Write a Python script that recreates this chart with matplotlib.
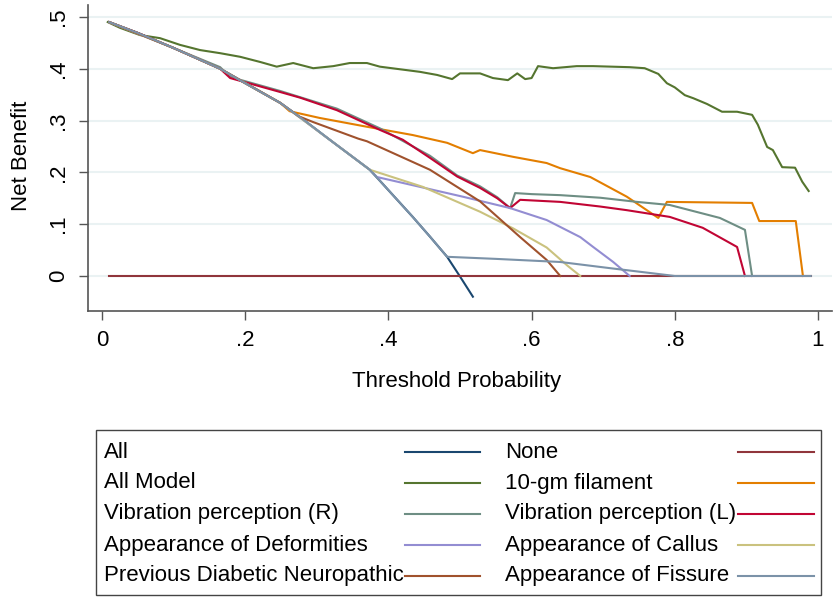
import matplotlib
matplotlib.use('Agg')
import matplotlib.pyplot as plt
from matplotlib.lines import Line2D
from matplotlib.patches import Rectangle

plt.rcParams['font.family'] = ['Liberation Sans', 'DejaVu Sans']

# Tick values and labels
x_ticks = [0, 0.2, 0.4, 0.6, 0.8, 1.0]
x_tick_labels = ['0', '.2', '.4', '.6', '.8', '1']
y_ticks = [0, 0.1, 0.2, 0.3, 0.4, 0.5]
y_tick_labels = ['0', '.1', '.2', '.3', '.4', '.5']

# Series
all_x = [0.01, 0.05, 0.10, 0.165, 0.20, 0.249, 0.28, 0.318, 0.374, 0.384, 0.434, 0.458, 0.482, 0.50, 0.518]
all_y = [0.490, 0.469, 0.440, 0.400, 0.372, 0.334, 0.303, 0.263, 0.205, 0.190, 0.114, 0.076, 0.037, -0.001, -0.040]

none_x = [0.01, 0.99]
none_y = [0.0, 0.0]

model_x = [0.008, 0.025, 0.053, 0.081, 0.109, 0.137, 0.165, 0.193, 0.221, 0.244, 0.267, 0.295,
           0.323, 0.346, 0.370, 0.388, 0.416, 0.444, 0.468, 0.489, 0.500, 0.528, 0.546, 0.567,
           0.580, 0.591, 0.600, 0.609, 0.630, 0.663, 0.686, 0.737, 0.758, 0.777, 0.789, 0.800,
           0.814, 0.826, 0.845, 0.866, 0.887, 0.908, 0.916, 0.929, 0.937, 0.950, 0.968, 0.978, 0.987]
model_y = [0.490, 0.479, 0.465, 0.459, 0.446, 0.436, 0.430, 0.423, 0.413, 0.404, 0.411, 0.401,
           0.405, 0.411, 0.411, 0.404, 0.399, 0.394, 0.388, 0.380, 0.391, 0.391, 0.382, 0.378,
           0.391, 0.380, 0.382, 0.405, 0.401, 0.405, 0.405, 0.403, 0.401, 0.390, 0.372, 0.364,
           0.349, 0.343, 0.332, 0.317, 0.317, 0.311, 0.292, 0.249, 0.243, 0.210, 0.209, 0.182, 0.164]

mono_x = [0.01, 0.05, 0.10, 0.165, 0.20, 0.249, 0.262, 0.304, 0.370, 0.434, 0.482, 0.518, 0.528,
          0.574, 0.621, 0.640, 0.682, 0.733, 0.777, 0.789, 0.908, 0.918, 0.969, 0.979]
mono_y = [0.490, 0.469, 0.440, 0.400, 0.372, 0.334, 0.318, 0.305, 0.288, 0.272, 0.257, 0.237, 0.243,
          0.230, 0.218, 0.208, 0.191, 0.153, 0.112, 0.143, 0.141, 0.106, 0.106, 0.0]

vib_r_x = [0.01, 0.05, 0.10, 0.165, 0.179, 0.249, 0.328, 0.388, 0.458, 0.496, 0.528, 0.552, 0.570,
           0.577, 0.600, 0.640, 0.696, 0.747, 0.793, 0.863, 0.898, 0.908]
vib_r_y = [0.490, 0.469, 0.440, 0.403, 0.384, 0.357, 0.323, 0.285, 0.232, 0.194, 0.173, 0.152, 0.131,
           0.160, 0.158, 0.156, 0.151, 0.143, 0.137, 0.112, 0.089, 0.0]

vib_l_x = [0.01, 0.05, 0.10, 0.165, 0.179, 0.249, 0.277, 0.328, 0.388, 0.420, 0.458, 0.496, 0.528,
           0.552, 0.570, 0.584, 0.640, 0.696, 0.733, 0.793, 0.839, 0.887, 0.898]
vib_l_y = [0.490, 0.469, 0.440, 0.400, 0.382, 0.355, 0.344, 0.320, 0.282, 0.263, 0.228, 0.192, 0.170,
           0.150, 0.131, 0.147, 0.143, 0.134, 0.127, 0.114, 0.093, 0.056, 0.0]

deform_x = [0.01, 0.10, 0.165, 0.249, 0.318, 0.374, 0.384, 0.444, 0.504, 0.570, 0.621, 0.668,
            0.686, 0.714, 0.737]
deform_y = [0.490, 0.440, 0.400, 0.334, 0.263, 0.205, 0.191, 0.172, 0.153, 0.131, 0.108, 0.075,
            0.056, 0.027, 0.0]

callus_x = [0.01, 0.10, 0.165, 0.249, 0.318, 0.374, 0.448, 0.528, 0.574, 0.621, 0.650, 0.668]
callus_y = [0.490, 0.440, 0.400, 0.334, 0.263, 0.205, 0.172, 0.124, 0.092, 0.055, 0.020, 0.0]

prev_x = [0.01, 0.10, 0.165, 0.249, 0.275, 0.295, 0.358, 0.370, 0.458, 0.528, 0.584, 0.621, 0.640]
prev_y = [0.490, 0.440, 0.400, 0.334, 0.308, 0.297, 0.265, 0.260, 0.205, 0.144, 0.075, 0.031, 0.0]

fissure_x = [0.01, 0.05, 0.10, 0.165, 0.20, 0.249, 0.28, 0.318, 0.374, 0.384, 0.434, 0.458, 0.482,
             0.55, 0.64, 0.71, 0.80, 0.99]
fissure_y = [0.490, 0.469, 0.440, 0.400, 0.372, 0.334, 0.303, 0.263, 0.205, 0.190, 0.114, 0.076, 0.037,
             0.033, 0.027, 0.015, 0.0, 0.0]

labels = ['All', 'None', 'All Model', '10-gm filament', 'Vibration perception (R)',
          'Vibration perception (L)', 'Appearance of Deformities', 'Appearance of Callus',
          'Previous Diabetic Neuropathic', 'Appearance of Fissure']
colors = ['#1a476f', '#90353b', '#55752f', '#e37e00', '#6e8e84',
          '#c10534', '#938dd2', '#cac27e', '#a0522d', '#7b92a8']
series = [(all_x, all_y), (none_x, none_y), (model_x, model_y), (mono_x, mono_y),
          (vib_r_x, vib_r_y), (vib_l_x, vib_l_y), (deform_x, deform_y),
          (callus_x, callus_y), (prev_x, prev_y), (fissure_x, fissure_y)]

W, H = 833, 598
fig = plt.figure(figsize=(W / 100, H / 100), dpi=100)
ax = fig.add_axes([88 / W, 1 - 311 / H, 744 / W, 306 / H])

for yt in y_ticks:
    ax.axhline(yt, color='#eaf2f3', lw=1.5, zorder=0)

for (xs, ys), c in zip(series, colors):
    ax.plot(xs, ys, color=c, lw=1.5, zorder=2)

ax.set_xlim(-0.0196, 1.0196)
ax.set_ylim(-0.0676, 0.523)
ax.set_xticks(x_ticks)
ax.set_xticklabels(x_tick_labels)
ax.set_yticks(y_ticks)
ax.set_yticklabels(y_tick_labels, rotation=90, va='center')
ax.tick_params(axis='both', length=6.5, width=1, color='#555555', labelsize=16, pad=7)
for s in ['top', 'right']:
    ax.spines[s].set_visible(False)
for s in ['left', 'bottom']:
    ax.spines[s].set_color('#555555')
    ax.spines[s].set_linewidth(1.2)

fig.text(22 / W, 1 - 156 / H, 'Net Benefit', rotation=90, ha='center', va='center', fontsize=16)
fig.text(457 / W, 1 - 381 / H, 'Threshold Probability', ha='center', va='center', fontsize=16)

# Legend box drawn by hand (Stata-style, text left and line right)
fig.add_artist(Rectangle((96 / W, 1 - 595 / H), 725 / W, 165 / H, transform=fig.transFigure,
                         fill=False, edgecolor='#444444', lw=1))
row_y = [452, 483, 514, 545, 576]
text_x = [104, 505]
line_x = [(405, 480), (738, 814)]
for i, (lab, c) in enumerate(zip(labels, colors)):
    r, col = i // 2, i % 2
    yy = 1 - row_y[r] / H
    fig.text(text_x[col] / W, yy, lab, ha='left', va='center', fontsize=16)
    x0, x1 = line_x[col]
    fig.add_artist(Line2D([x0 / W, x1 / W], [yy, yy], transform=fig.transFigure, color=c, lw=1.5))

fig.savefig('out.png', dpi=100)
